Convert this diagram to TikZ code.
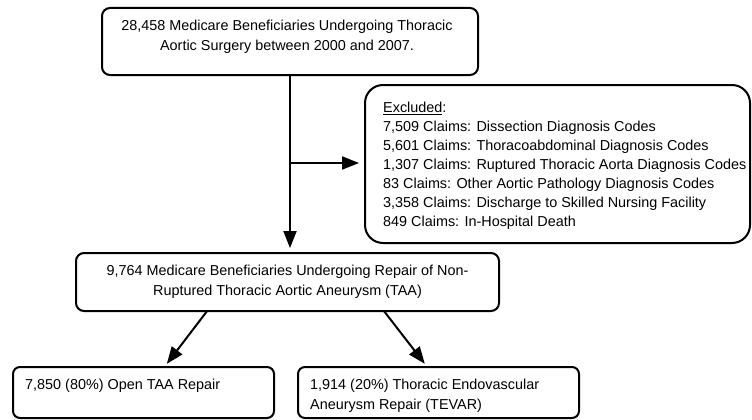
\documentclass[tikz,border=0pt]{standalone}
\usepackage{fontspec}
\setmainfont{Liberation Sans}
\usetikzlibrary{arrows.meta,calc}
\begin{document}
\begin{tikzpicture}[x=1pt,y=-1pt,
  box/.style={draw, line width=2pt, rounded corners=8pt, inner sep=0pt, outer sep=0pt},
  txt/.style={inner sep=0pt, font=\fontsize{14.4}{20}\selectfont},
  arr/.style={line width=2pt, -{Triangle[length=17pt,width=13pt]}}]
\useasboundingbox (0,0) rectangle (752,420);
% boxes
\node[box, minimum width=376pt, minimum height=67pt] (top) at (290,41.5) {};
\node[box, rounded corners=18pt, minimum width=385pt, minimum height=158pt] (excl) at (557.5,164) {};
\node[box, minimum width=423pt, minimum height=58pt] (box2) at (287.5,282) {};
\node[box, rounded corners=7pt, minimum width=261pt, minimum height=51pt] (box3) at (143.5,392.5) {};
\node[box, rounded corners=7pt, minimum width=281pt, minimum height=51pt] (box4) at (438.5,392.5) {};
% texts
\node[txt, align=center, anchor=north] (toptxt) at (287,20) {28,458 Medicare Beneficiaries Undergoing Thoracic\\Aortic Surgery between 2000 and 2007.};
\node[txt, font=\fontsize{14.4}{19}\selectfont, align=left, anchor=north west] (excltxt) at (383,102) {\underline{Excluded}:\\
7,509 Claims: Dissection Diagnosis Codes\\
5,601 Claims: Thoracoabdominal Diagnosis Codes\\
1,307 Claims: Ruptured Thoracic Aorta Diagnosis Codes\\
83 Claims: Other Aortic Pathology Diagnosis Codes\\
3,358 Claims: Discharge to Skilled Nursing Facility\\
849 Claims: In-Hospital Death};
\node[txt, font=\fontsize{14.4}{19.5}\selectfont, align=center, anchor=north] (box2txt) at (287.5,265) {9,764 Medicare Beneficiaries Undergoing Repair of Non-\\Ruptured Thoracic Aortic Aneurysm (TAA)};
\node[txt, align=left, anchor=north west] (box3txt) at (25,379) {7,850 (80\%) Open TAA Repair};
\node[txt, align=left, anchor=north west] (box4txt) at (310,379) {1,914 (20\%) Thoracic Endovascular\\Aneurysm Repair (TEVAR)};
% connectors
\draw[arr, shorten >=5pt] (top.south) -- (top.south |- box2.north);
\draw[arr, shorten >=6pt] ($(top.south |- excl.west)+(0,-1)$) -- ($(excl.west)+(0,-1)$);
\draw[arr, shorten >=4pt] ($(box2.south west)!0.31!(box2.south east)$) -- ($(box3.north west)!0.58!(box3.north east)$);
\draw[arr, shorten >=4pt] ($(box2.south west)!0.728!(box2.south east)$) -- ($(box4.north west)!0.46!(box4.north east)$);
\end{tikzpicture}
\end{document}
